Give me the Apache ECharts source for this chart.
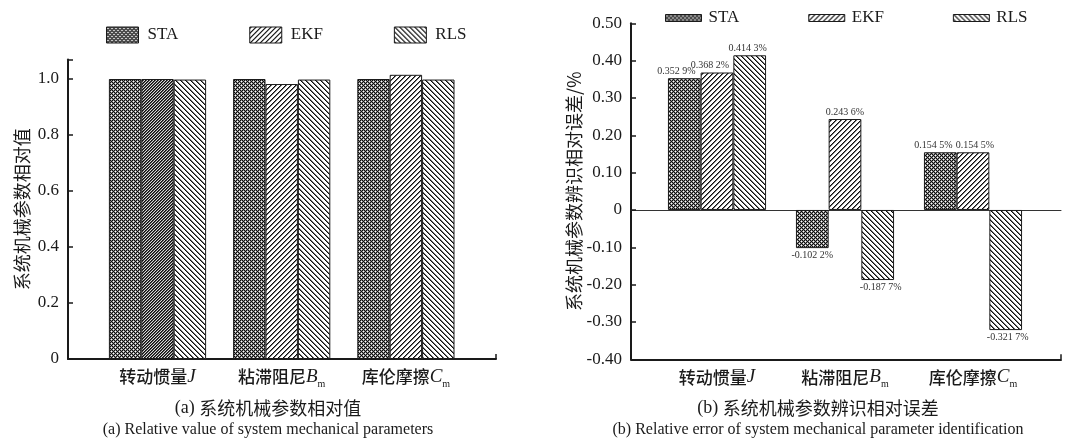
<!DOCTYPE html>
<html>
<head>
<meta charset="utf-8">
<script src="https://cdn.jsdelivr.net/npm/echarts@6/dist/echarts.min.js"></script>
<style>
  html, body { margin: 0; padding: 0; background: #fff; }
  #chart { width: 1070px; height: 441px; }
</style>
</head>
<body>
<div id="chart"></div>
<script>
// ---- data ----
const seriesNames = ['STA', 'EKF', 'RLS'];
const categories = ['转动惯量J', '粘滞阻尼Bm', '库伦摩擦Cm'];

// (a) relative value of identified parameters
const relSTA = [1.000, 1.000, 1.000];
const relEKF = [1.000, 0.982, 1.015];
const relRLS = [0.998, 0.998, 0.998];

// (b) relative identification error, %
const errSTA = [0.3529, -0.1022, 0.1545];
const errEKF = [0.3682, 0.2436, 0.1545];
const errRLS = [0.4143, -0.1877, -0.3217];

const relTicks = [0, 0.2, 0.4, 0.6, 0.8, 1.0];
const errTicks = [-0.4, -0.3, -0.2, -0.1, 0, 0.1, 0.2, 0.3, 0.4, 0.5];

const captionA = ['(a) ', '系统机械参数相对值', '(a) Relative value of system mechanical parameters'];
const captionB = ['(b) ', '系统机械参数辨识相对误差', '(b) Relative error of system mechanical parameter identification'];

// horizontal nudges of the value labels in panel (b), px, per series and category
const labelShift = [[-8, 0, -7], [-7, 0, 2], [-2, 3, 2]];

// ---- fill patterns built pixel by pixel ----
function tile(w, h, shade) {
  const c = document.createElement('canvas');
  c.width = w; c.height = h;
  const ctx = c.getContext('2d');
  const img = ctx.createImageData(w, h);
  for (let y = 0; y < h; y++) {
    for (let x = 0; x < w; x++) {
      const v = Math.round(255 * shade(x, y));
      const i = (y * w + x) * 4;
      img.data[i] = v; img.data[i + 1] = v; img.data[i + 2] = v; img.data[i + 3] = 255;
    }
  }
  ctx.putImageData(img, 0, 0);
  return { image: c, repeat: 'repeat' };
}
// dotted checker: white dots on a dark lattice
const dotFill = tile(4, 4, (x, y) => {
  const dots = [[1, 1], [3, 3]];
  let d = 9;
  for (const [cx, cy] of dots) {
    for (const ox of [-4, 0, 4]) for (const oy of [-4, 0, 4]) {
      d = Math.min(d, Math.hypot(x - cx - ox, y - cy - oy));
    }
  }
  return d < 0.5 ? 1 : (d <= 1.0 ? 0.55 : 0.05);
});
// "/" hatching
const slashFill = tile(5, 5, (x, y) => {
  const k = (x + y) % 5;
  return k === 0 ? 0.05 : (k === 1 ? 0.45 : 1);
});
// dense "/" hatching
const slashDense = tile(3, 3, (x, y) => {
  const k = (x + y) % 3;
  return k === 0 ? 0.05 : (k === 1 ? 0.3 : 0.85);
});
// "\" hatching
const backFill = tile(5, 5, (x, y) => {
  const k = ((x - y) % 5 + 5) % 5;
  return k === 0 ? 0.05 : (k === 1 ? 0.45 : 1);
});
const fills = [dotFill, slashFill, backFill];

// ---- text styles ----
const SERIF = 'Liberation Serif';
const CJK = 'Noto Sans CJK SC';
const INK = '#1a1a1a';

const catRich = {
  cn: { fontFamily: CJK, fontSize: 17, fontWeight: 500, color: INK, lineHeight: 24 },
  it: { fontFamily: SERIF, fontStyle: 'italic', fontSize: 19, color: INK, lineHeight: 24 },
  sub: { fontFamily: SERIF, fontSize: 10, color: INK, lineHeight: 12, verticalAlign: 'bottom' }
};
function catLabel(v) {
  // split "名称X" or "名称Xm" into Chinese part, italic symbol and subscript
  const m = v.match(/^(.*?)([A-Z])(m?)$/);
  if (!m) return '{cn|' + v + '}';
  return '{cn|' + m[1] + '}{it|' + m[2] + '}' + (m[3] ? '{sub|' + m[3] + '}' : '');
}
function pctLabel(p) {
  const v = p.value;
  const s = Math.abs(v).toFixed(4);
  return (v < 0 ? '-' : '') + s.slice(0, -1) + ' ' + s.slice(-1) + '%';
}
function relTickLabel(v) {
  const hit = relTicks.find(t => Math.abs(t - v) < 1e-6);
  if (hit === undefined) return '';
  return hit === 0 ? '0' : hit.toFixed(1);
}
function errTickLabel(v) {
  const hit = errTicks.find(t => Math.abs(t - v) < 1e-6);
  if (hit === undefined) return '';
  return Math.abs(hit) < 1e-9 ? '0' : hit.toFixed(2);
}

// ---- layout of the two panels ----
const A = { frame: { left: 68, right: 574, top: 59.4, bottom: 82 }, band: { left: 95.4, right: 602 }, min: 0, max: 1.07, interval: 0.2 };
const B = { frame: { left: 631, right: 9, top: 23.3, bottom: 81.7 }, band: { left: 653, right: 33 }, min: -0.4, max: 0.5, interval: 0.1 };

const grids = [
  A.frame,
  { left: A.band.left, right: A.band.right, top: A.frame.top, bottom: A.frame.bottom },
  B.frame,
  { left: B.band.left, right: B.band.right, top: B.frame.top, bottom: B.frame.bottom }
];

const frameX = (gridIndex) => ({
  type: 'value', gridIndex, min: 0, max: 1, interval: 1, position: 'bottom',
  axisLine: { show: true, onZero: false, lineStyle: { color: INK, width: 2 } },
  axisTick: { show: true, inside: true, length: 5, lineStyle: { color: INK, width: 1.5 } },
  axisLabel: { show: false }, splitLine: { show: false }
});
const catX = (gridIndex) => ({
  type: 'category', gridIndex, data: categories, position: 'bottom',
  axisLine: { show: false, onZero: false }, axisTick: { show: false },
  axisLabel: { interval: 0, margin: 6, formatter: catLabel, rich: catRich },
  splitLine: { show: false }
});
const valueY = (gridIndex, P, shown, formatter, name, gap) => ({
  type: 'value', gridIndex, min: P.min, max: P.max, interval: P.interval, show: shown,
  name, nameLocation: 'middle', nameGap: gap,
  nameTextStyle: { fontFamily: CJK, fontSize: 18, color: INK },
  axisLine: { show: true, lineStyle: { color: INK, width: 2 } },
  axisTick: { show: true, inside: true, length: 5, lineStyle: { color: INK, width: 1.5 } },
  axisLabel: { margin: 9, fontFamily: SERIF, fontSize: 17, color: INK, formatter },
  splitLine: { show: false }
});

const xAxis = [
  frameX(0),
  catX(1),
  frameX(2),
  catX(3),
  // zero line of panel (b)
  {
    type: 'value', gridIndex: 2, min: 0, max: 1, show: true,
    axisLine: { show: true, onZero: true, lineStyle: { color: '#333', width: 1 } },
    axisTick: { show: false }, axisLabel: { show: false }, splitLine: { show: false }
  }
];
const yAxis = [
  valueY(0, A, true, relTickLabel, '系统机械参数相对值', 37),
  valueY(1, A, false, relTickLabel, '', 0),
  valueY(2, B, true, errTickLabel, '系统机械参数辨识相对误差/%', 48),
  valueY(3, B, false, errTickLabel, '', 0)
];

const barBase = {
  type: 'bar', barGap: '0%',
  emphasis: { disabled: true }
};
const relData = [relSTA, relEKF, relRLS];
const errData = [errSTA, errEKF, errRLS];

const series = [];
seriesNames.forEach((name, i) => {
  series.push(Object.assign({}, barBase, {
    name, xAxisIndex: 1, yAxisIndex: 1, barWidth: 32.4,
    itemStyle: { color: fills[i], borderColor: INK, borderWidth: 1 },
    // the first EKF bar uses a denser hatching
    data: relData[i].map((v, j) => (i === 1 && j === 0) ? { value: v, itemStyle: { color: slashDense } } : v)
  }));
});
seriesNames.forEach((name, i) => {
  series.push(Object.assign({}, barBase, {
    name, xAxisIndex: 3, yAxisIndex: 3, barWidth: 32.7,
    itemStyle: { color: fills[i], borderColor: INK, borderWidth: 1 },
    label: { show: true, position: 'outside', distance: 2, fontFamily: SERIF, fontSize: 10, color: '#333', formatter: pctLabel },
    data: errData[i].map((v, j) => ({ value: v, label: { offset: [labelShift[i][j], 0] } }))
  }));
});

const legendBase = {
  data: seriesNames, icon: 'rect', orient: 'horizontal', selectedMode: false,
  itemStyle: { borderColor: INK, borderWidth: 1 },
  textStyle: { fontFamily: SERIF, fontSize: 17, color: INK, lineHeight: 20 }
};
const legend = [
  Object.assign({}, legendBase, { left: 101, top: 20, itemWidth: 32, itemHeight: 16, itemGap: 71,
    textStyle: Object.assign({}, legendBase.textStyle, { padding: [0, 0, 0, 4] }) }),
  Object.assign({}, legendBase, { left: 660, top: 3, itemWidth: 36, itemHeight: 7, itemGap: 69,
    textStyle: Object.assign({}, legendBase.textStyle, { padding: [0, 0, 0, 2] }) })
];

const capRich = {
  en: { fontFamily: SERIF, fontSize: 18, fontWeight: 'normal', color: INK, lineHeight: 22 },
  cn: { fontFamily: CJK, fontSize: 18, fontWeight: 'normal', color: INK, lineHeight: 22 }
};
const caption = (c, x) => ({
  text: '{en|' + c[0] + '}{cn|' + c[1] + '}', subtext: c[2],
  left: x, top: 397, textAlign: 'center', itemGap: 6, padding: 0,
  textStyle: { fontWeight: 'normal', rich: capRich },
  subtextStyle: { fontFamily: SERIF, fontSize: 16, color: INK, lineHeight: 18 }
});

const chart = echarts.init(document.getElementById('chart'), null, { renderer: 'canvas' });
chart.setOption({
  animation: false,
  backgroundColor: '#fff',
  title: [caption(captionA, 268), caption(captionB, 818)],
  legend,
  grid: grids,
  xAxis,
  yAxis,
  series
});
</script>
</body>
</html>
